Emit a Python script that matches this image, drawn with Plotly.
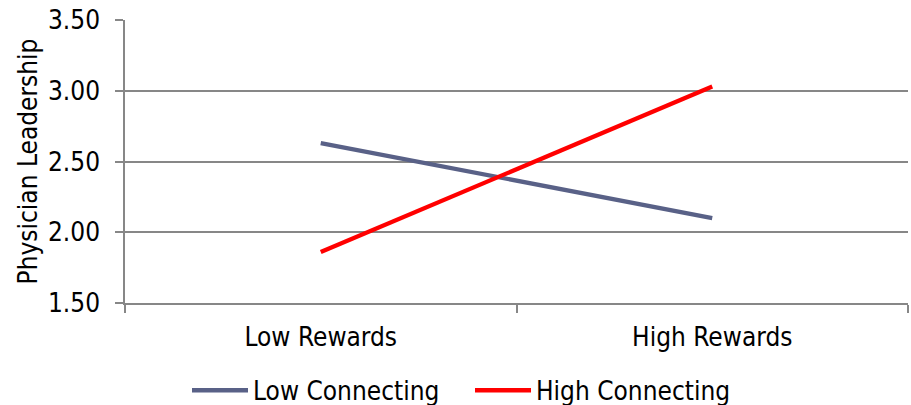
import plotly.graph_objects as go

categories = ["Low Rewards", "High Rewards"]
low_connecting = [2.63, 2.10]
high_connecting = [1.86, 3.03]
y_ticks = [1.5, 2.0, 2.5, 3.0, 3.5]
y_tick_labels = ["1.50", "2.00", "2.50", "3.00", "3.50"]

FONT = "DejaVu Sans Condensed, DejaVu Sans"
GRID = "#878787"

fig = go.Figure()
fig.add_trace(go.Scatter(x=categories, y=low_connecting, mode="lines", name="Low Connecting",
                         line=dict(color="#596187", width=4.3)))
fig.add_trace(go.Scatter(x=categories, y=high_connecting, mode="lines", name="High Connecting",
                         line=dict(color="#FF0000", width=4.3)))

fig.update_layout(
    width=911, height=405,
    margin=dict(l=125, r=3, t=20, b=101.5, autoexpand=False),
    paper_bgcolor="white", plot_bgcolor="white",
    font=dict(family=FONT, size=26, color="black"),
    showlegend=True,
    legend=dict(orientation="h", x=(192 - 125 - 5) / 783, xanchor="left",
                y=-(391 - 303.5) / 283.5, yanchor="middle",
                font=dict(family=FONT, size=26, color="black"), itemwidth=56,
                entrywidth=212, entrywidthmode="pixels",
                tracegroupgap=0, bgcolor="rgba(0,0,0,0)", borderwidth=0),
)
fig.update_xaxes(type="category", range=[-0.5, 1.5], tickson="boundaries",
                 showline=True, linecolor=GRID, linewidth=1.5,
                 ticks="outside", ticklen=8, tickcolor=GRID, tickwidth=1.5,
                 showgrid=False, zeroline=False, ticklabelstandoff=10,
                 tickfont=dict(family=FONT, size=26, color="black"))
fig.update_yaxes(range=[1.5, 3.5], tickvals=y_ticks, ticktext=y_tick_labels,
                 showline=True, linecolor=GRID, linewidth=1.5,
                 ticks="outside", ticklen=8, tickcolor=GRID, tickwidth=1.5,
                 showgrid=True, gridcolor=GRID, gridwidth=1.5, zeroline=False,
                 ticklabelstandoff=10,
                 tickfont=dict(family=FONT, size=26, color="black"),
                 title=dict(text="Physician Leadership", font=dict(family=FONT, size=26, color="black"),
                            standoff=3))

fig.write_html("out.html")
